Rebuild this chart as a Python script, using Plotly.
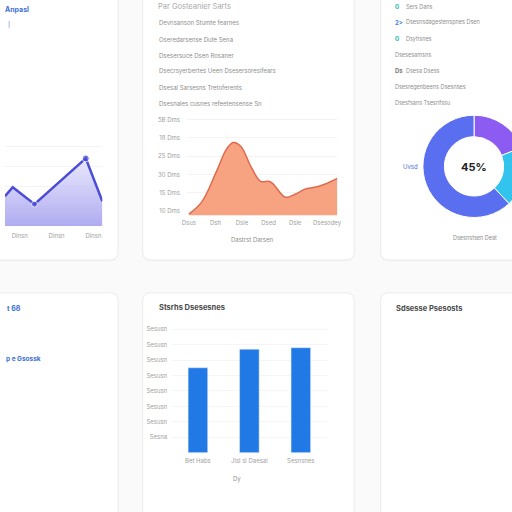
import plotly.graph_objects as go

# line card (top left)
line_x = [0.6, 0.81, 1.4, 2.79, 3.24]
line_y = [30, 39, 22, 68, 25]
line_ticks = ['Dinsn', 'Dinsn', 'Dinsn']

# area card (top middle)
area_x = [0, 0.48, 1.04, 1.41, 1.67, 1.96, 2.33, 2.7, 3.0, 3.15, 3.63, 4.0, 4.37, 4.74, 5.11, 5.59]
area_y = [8.4, 14.9, 31.7, 43.7, 47.5, 45.3, 34.5, 26.3, 26.3, 25.2, 17.6, 19.2, 22.0, 23.0, 24.7, 27.9]
area_xticks = ['Dsus', 'Dsh', 'Dsle', 'Dsed', 'Dsle', 'Dsesodey']
area_yticks = ['10 Dms', '1S Dms', '30 Dms', '2S Dms', '18 Dms', '5B Dms']
area_lines = ['Devnsanson Stumte fearnes', 'Oseredarsense Dute Sena', 'Dsesersuce Dsen Rosaner',
              'Dsecrsyerbertes Ueen Dsesersoresifears', 'Dsesal Sarsesns Tretoferents',
              'Dsesnales cusnes refeetensense Sn']

# donut card (top right)
donut_labels = ['Violet', 'Cyan', 'Blue']
donut_values = [19, 19, 62]
donut_items = [('0', 'Sers Dans'), ('2>', 'Dsesnsdagestenspnes Dsen'), ('0', 'Dsyhsnes'),
               ('', 'Dsesesamsns'), ('Ds', 'Dsesa Dsess'), ('', 'Dsesregenbeens Dsesnses'),
               ('', 'Dsesfsans Tsesrifssu')]

# bar card (bottom middle)
bar_cats = ['Bet Habs', 'Jlsl sl Daesal', 'Sesnsnes']
bar_vals = [5.5, 6.7, 6.8]
bar_yticks = ['Sesna', 'Sesusn', 'Sesusn', 'Sesusn', 'Sesusn', 'Sesusn', 'Sesusn', 'Sesusn']

W = 540   # page is wider than the window so the right cards get cut like the reference
H = 512


def px(x):
    return x / W


def py(y):
    return 1 - y / H


def card(x0, y0, x1, y1, r=8):
    a, b, c, d = px(x0), py(y0), px(x1), py(y1)
    rx, ry = r / W, r / H
    return (f'M {a+rx},{b} L {c-rx},{b} Q {c},{b} {c},{b-ry} '
            f'L {c},{d+ry} Q {c},{d} {c-rx},{d} L {a+rx},{d} '
            f'Q {a},{d} {a},{d+ry} L {a},{b-ry} Q {a},{b} {a+rx},{b} Z')


fig = go.Figure()

fig.add_trace(go.Scatter(
    x=line_x, y=line_y, xaxis='x', yaxis='y',
    mode='lines+markers', fill='tozeroy',
    line=dict(color='#4b4dd6', width=2.5),
    marker=dict(size=[0, 0, 6, 7, 0], color='#4b4dd6'),
    fillgradient=dict(type='vertical', start=0, stop=70,
                      colorscale=[[0, 'rgba(160,156,238,0.85)'], [1, 'rgba(230,228,252,0.8)']]),
    showlegend=False, hoverinfo='skip'))

fig.add_trace(go.Scatter(
    x=area_x, y=area_y, xaxis='x2', yaxis='y2',
    mode='lines', fill='tozeroy',
    line=dict(color='#de6a4e', width=1.5, shape='spline', smoothing=1),
    fillcolor='#f7a382', showlegend=False, hoverinfo='skip'))

fig.add_trace(go.Bar(
    x=bar_cats, y=bar_vals, xaxis='x3', yaxis='y3',
    marker=dict(color='#2179e6'), showlegend=False, hoverinfo='skip'))

fig.add_trace(go.Pie(
    labels=donut_labels, values=donut_values, hole=0.58,
    sort=False, direction='clockwise', rotation=0,
    marker=dict(colors=['#8c5cf2', '#33c4ee', '#5a6ef0'], line=dict(color='white', width=1)),
    textinfo='none', showlegend=False, hoverinfo='skip',
    domain=dict(x=[px(425), px(529)], y=[py(217), py(113)])))

small = dict(family='Inter, sans-serif', size=6, color='#a0a0a0')
ann = []


def text(x, y, s, size=6, color='#929292', bold=False, anchor='left'):
    ann.append(dict(x=px(x), y=py(y), xref='paper', yref='paper', text=f'<b>{s}</b>' if bold else s,
                    showarrow=False, xanchor=anchor, yanchor='middle',
                    font=dict(family='Inter, sans-serif', size=size, color=color)))


# top left card text
text(-2, 8, 'Anpasl', 7, '#3b6fd6', True)
text(1, 23, '|', 6, '#3b6fd6')

# top middle card text
text(154, 5, 'Par Gosteanier Sarts', 7.5, '#aaaaaa')
for i, s in enumerate(area_lines):
    text(155, 21 + i * 16.2, s, 6, '#8e8e8e')
text(252, 238, 'Dastrst Darsen', 6, '#8e8e8e', anchor='center')

# top right card text
for i, (ic, s) in enumerate(donut_items):
    y = 5 + i * 16
    if ic:
        col = '#2ab3a0' if ic == '0' else ('#4a86d6' if ic == '2>' else '#7a7a7a')
        text(395, y, ic, 6, col, True)
        text(406, y, s, 5.5, '#8e8e8e')
    else:
        text(395, y, s, 5.5, '#8e8e8e')
text(412, 165, 'Uvsd', 6, '#4a6fd6', anchor='center')
text(477, 166, '45%', 11, '#222222', True, anchor='center')
text(478, 237, 'Dsesnstsen Deat', 5.5, '#8e8e8e', anchor='center')

# bottom cards text
text(0, 308, 't 68', 7, '#3b6fd6', True)
text(-1, 358, 'p e Gsossk', 6.5, '#3b6fd6', True)
text(155, 307, 'Stsrhs Dsesesnes', 7.5, '#4a4a4a', True)
text(236, 479, 'Dy', 6, '#8e8e8e', anchor='center')
text(396, 308, 'Sdsesse Psesosts', 7.5, '#4a4a4a', True)

shapes = []
for (x0, y0, x1, y1) in [(-20, -20, 115, 259), (140, -20, 355, 259), (382, -20, 560, 259),
                         (-20, 292, 115, 540), (140, 292, 355, 540), (382, 292, 560, 540)]:
    shapes.append(dict(type='path', path=card(x0, y0 + 1.5, x1, y1 + 1.5), xref='paper', yref='paper',
                       fillcolor='rgba(0,0,0,0.025)', line=dict(width=0), layer='below'))
    shapes.append(dict(type='path', path=card(x0, y0, x1, y1), xref='paper', yref='paper',
                       fillcolor='#ffffff', line=dict(color='#ebebeb', width=1), layer='below'))

axis_common = dict(zeroline=False, showline=False, ticks='', fixedrange=True)

fig.update_layout(
    width=W, height=H,
    margin=dict(l=0, r=0, t=0, b=0),
    paper_bgcolor='#fafafa', plot_bgcolor='rgba(0,0,0,0)',
    font=small,
    shapes=shapes, annotations=ann,
    bargap=0.62,
    xaxis=dict(domain=[0, px(99)], range=[0.6, 3.24], tickvals=[1, 2, 3], ticktext=line_ticks,
               showgrid=False, anchor='y', ticklabelstandoff=5, **axis_common),
    yaxis=dict(domain=[py(225), py(125)], range=[0, 100], dtick=20, showticklabels=False,
               gridcolor='#f3f3f3', anchor='x', **axis_common),
    xaxis2=dict(domain=[px(185), px(338)], range=[-0.074, 5.59], tickvals=[0, 1, 2, 3, 4, 5.2],
                ticktext=area_xticks, showgrid=False, anchor='y2', ticklabelstandoff=3, **axis_common),
    yaxis2=dict(domain=[py(214), py(116)], range=[7.8, 61.1], tickvals=[10, 20, 30, 40, 50, 60],
                ticktext=area_yticks, gridcolor='#f3f3f3', anchor='x2', ticklabelstandoff=6, **axis_common),
    xaxis3=dict(domain=[px(170), px(327)], showgrid=False, anchor='y3', ticklabelstandoff=3, **axis_common),
    yaxis3=dict(domain=[py(452.5), py(323.8)], range=[0, 8.3], tickvals=list(range(1, 9)),
                ticktext=bar_yticks, gridcolor='#f5f5f5', anchor='x3', ticklabelstandoff=4, **axis_common),
)

fig.write_html('out.html', config={'displayModeBar': False},
               post_script="document.body.style.margin='0';"
                           "document.body.style.overflow='hidden';"
                           "document.documentElement.style.overflow='hidden';")
